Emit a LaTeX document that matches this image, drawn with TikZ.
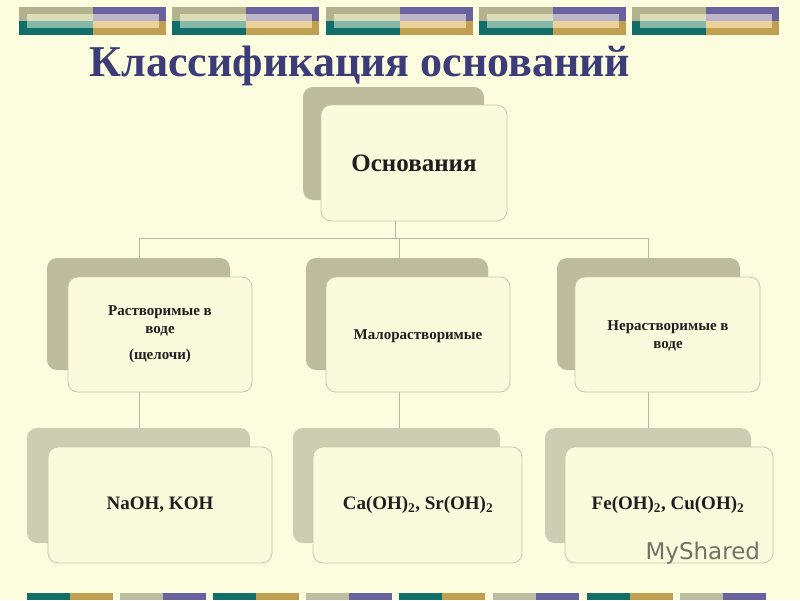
\documentclass[tikz,border=0pt]{standalone}
\usepackage{fontspec}
\setmainfont{Liberation Serif}
\setsansfont{DejaVu Sans}
\begin{document}
\begin{tikzpicture}[x=1pt,y=-1pt,
  front/.style={fill=boxf,draw=boxd,line width=0.8pt,rounded corners=10pt},
  conn/.style={draw=lineg,line width=0.7pt},
  lbl/.style={font=\bfseries,text=txt,align=center}]
\definecolor{bg}{HTML}{FCFCDF}
\definecolor{boxf}{HTML}{FAFADC}
\definecolor{boxd}{HTML}{CACAA4}
\definecolor{shA}{HTML}{BDBD9E}
\definecolor{shB}{HTML}{CDCDB2}
\definecolor{lineg}{HTML}{B8B8A0}
\definecolor{txt}{HTML}{1E1E1E}
\definecolor{ttl}{HTML}{3C3C78}
\definecolor{ol}{HTML}{B2B28E}\definecolor{oll}{HTML}{DCDCB8}
\definecolor{tl}{HTML}{116E68}\definecolor{tll}{HTML}{84B8A8}
\definecolor{pu}{HTML}{6A629E}\definecolor{pul}{HTML}{BCB4C8}
\definecolor{tn}{HTML}{C0A050}\definecolor{tnl}{HTML}{EAD29A}
\definecolor{gy}{HTML}{BDBDA2}
\definecolor{wmc}{HTML}{6E7466}
\fill[bg] (0,0) rectangle (800,600);
\useasboundingbox (0,0) rectangle (800,600);
% top tiles
\foreach \s in {19,172,326,479,632}{
  \fill[ol] (\s,7) rectangle ++(74,14);
  \fill[oll] (\s+8,14) rectangle ++(66,7);
  \fill[tl] (\s,21) rectangle ++(74,14);
  \fill[tll] (\s+8,21) rectangle ++(66,7);
  \fill[pu] (\s+74,7) rectangle ++(73,14);
  \fill[pul] (\s+74,14) rectangle ++(66,7);
  \fill[tn] (\s+74,21) rectangle ++(73,14);
  \fill[tnl] (\s+74,21) rectangle ++(66,7);
}
% bottom tiles
\foreach \s in {27,213,399,587}{
  \fill[tl] (\s,593) rectangle ++(43,7);
  \fill[tn] (\s+43,593) rectangle ++(43,7);}
\foreach \s in {120,306,493,680}{
  \fill[gy] (\s,593) rectangle ++(43,7);
  \fill[pu] (\s+43,593) rectangle ++(43,7);}
\node[font=\bfseries\fontsize{44}{48}\selectfont,text=ttl] (title) at (360,66) {Классификация оснований};
% root
\fill[shA,rounded corners=10pt] (303,87) rectangle (484,200);
\draw[front] (321,105) rectangle (507,221);
\node[lbl,font=\bfseries\fontsize{25}{28}\selectfont] (root) at (414,163) {Основания};
\coordinate (rb) at (395,221);
% level 2
\fill[shA,rounded corners=10pt] (47,258) rectangle (230,370);
\draw[front] (68,277) rectangle (252,392);
\node[lbl,font=\bfseries\fontsize{15}{18}\selectfont] (a) at (160,334) {Растворимые в\\воде\\[8pt](щелочи)};
\fill[shA,rounded corners=10pt] (306,258) rectangle (488,370);
\draw[front] (326,277) rectangle (510,392);
\node[lbl,font=\bfseries\fontsize{15}{18}\selectfont] (b) at (418,336) {Малорастворимые};
\fill[shA,rounded corners=10pt] (557,258) rectangle (740,370);
\draw[front] (575,277) rectangle (760,392);
\node[lbl,font=\bfseries\fontsize{15}{18}\selectfont] (c) at (668,336) {Нерастворимые в\\воде};
% level 3
\fill[shB,rounded corners=10pt] (27,428) rectangle (250,543);
\draw[front] (48,447) rectangle (272,563);
\node[lbl,font=\bfseries\fontsize{19}{22}\selectfont] (d) at (160,505) {NaOH, KOH};
\fill[shB,rounded corners=10pt] (293,428) rectangle (500,543);
\draw[front] (313,447) rectangle (522,563);
\node[lbl,font=\bfseries\fontsize{19}{22}\selectfont] (e) at (418,505) {Ca(OH)\textsubscript{2}, Sr(OH)\textsubscript{2}};
\fill[shB,rounded corners=10pt] (545,428) rectangle (751,543);
\draw[front] (565,447) rectangle (773,563);
\node[lbl,font=\bfseries\fontsize{19}{22}\selectfont] (f) at (668,505) {Fe(OH)\textsubscript{2}, Cu(OH)\textsubscript{2}};
% connectors
\coordinate (a1) at (139,258);\coordinate (b1) at (399,258);\coordinate (c1) at (648,258);
\draw[conn] (rb) -- (395,238) (139,238) -- (648,238) (139,238) -- (a1) (399,238) -- (b1) (648,238) -- (c1);
\coordinate (a2) at (139,392);\coordinate (d1) at (139,428);
\coordinate (b2) at (399,392);\coordinate (e1) at (399,428);
\coordinate (c2) at (648,392);\coordinate (f1) at (648,428);
\draw[conn] (a2) -- (d1) (b2) -- (e1) (c2) -- (f1);
% watermark
\node[font=\sffamily\fontsize{23}{26}\selectfont,text=wmc,anchor=west] (wm) at (642,553) {MyShared};
\end{tikzpicture}
\end{document}
